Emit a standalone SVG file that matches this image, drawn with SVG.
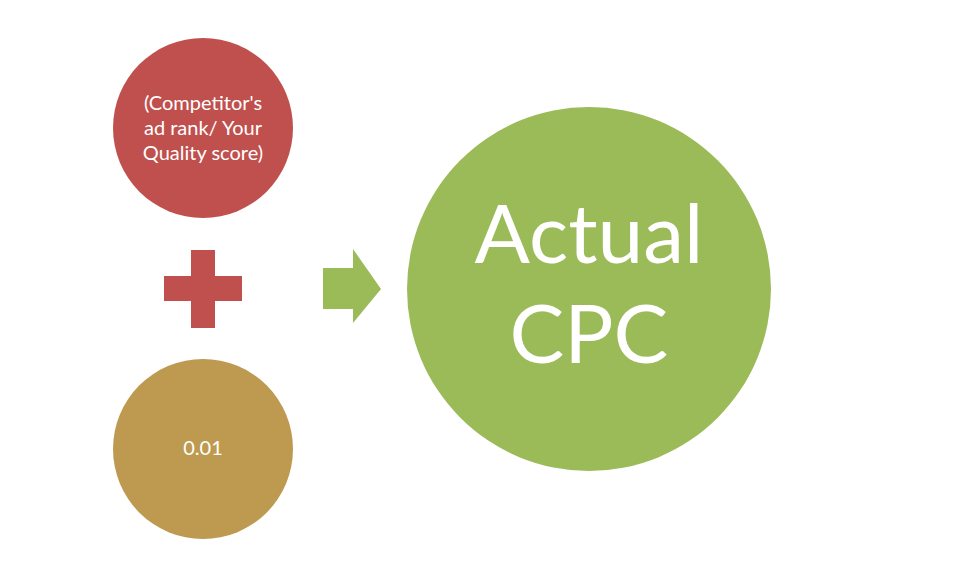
<svg xmlns="http://www.w3.org/2000/svg" width="961" height="587" viewBox="0 0 961 587">
<style>
.t{font-family:Lato,"Open Sans","Liberation Sans",sans-serif;fill:#fff;text-anchor:middle}
.s{font-size:20px}
.b{font-size:82px}
</style>
<rect width="961" height="587" fill="#fff"/>
<g id="competitor">
<circle cx="203" cy="128" r="90" fill="#C0504D"/>
<text class="t s" x="203" y="110">(Competitor's</text>
<text class="t s" x="203" y="135">ad rank/ Your</text>
<text class="t s" x="203" y="160">Quality score)</text>
</g>
<g id="plus">
<path d="M164,276 H191 V250 H215 V276 H242 V301 H215 V328 H191 V301 H164 Z" fill="#C0504D"/>
</g>
<g id="constant">
<circle cx="203" cy="449" r="90" fill="#BE9A51"/>
<text class="t s" x="203" y="455">0.01</text>
</g>
<g id="connectors">
<path d="M323,268 H353 V249 L381,289 L353,323 V309 H323 Z" fill="#9BBB59"/>
</g>
<g id="actual-cpc">
<circle cx="589" cy="289" r="182" fill="#9BBB59"/>
<text class="t b" x="589" y="263">Actual</text>
<text class="t b" x="589" y="363">CPC</text>
</g>
</svg>
